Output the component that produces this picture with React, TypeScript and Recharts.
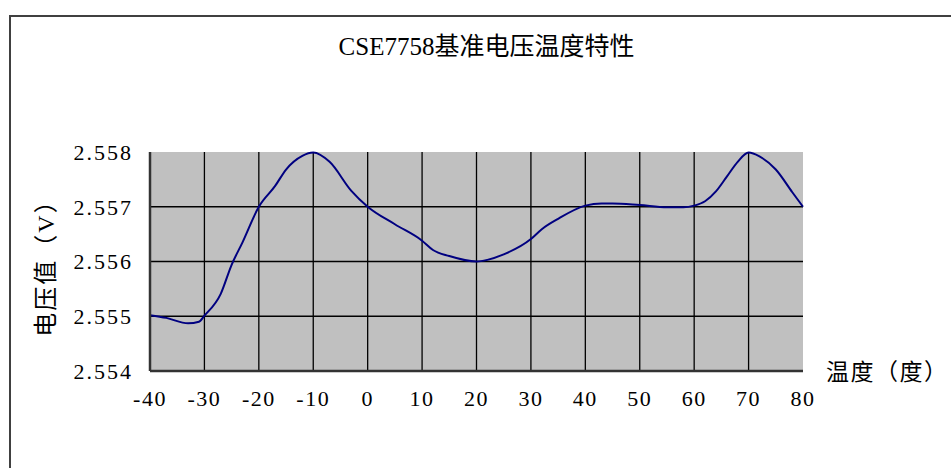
import React from "react";
import {
  LineChart,
  Line,
  XAxis,
  YAxis,
  ReferenceArea,
  ReferenceLine,
} from "recharts";

const temps = [
  -40, -37, -33, -31, -30, -27, -25, -23, -20, -17, -15, -12, -10, -7, -3, 0, 5,
  10, 12, 15, 20, 22, 25, 30, 32, 35, 40, 43, 45, 50, 55, 58, 60, 62, 64, 66, 68,
  70, 72, 75, 78, 80,
];
const voltages = [
  2.55502, 2.55497, 2.55487, 2.5549, 2.55501, 2.55541, 2.55594, 2.55635, 2.557,
  2.55738, 2.55768, 2.55793, 2.55799, 2.55782, 2.55729, 2.557, 2.55668, 2.55638,
  2.55621, 2.5561, 2.556, 2.55603, 2.55613, 2.55641, 2.55659, 2.55678, 2.55702,
  2.55706, 2.55706, 2.55703, 2.55699, 2.55699, 2.55702, 2.5571, 2.55728, 2.55755,
  2.55782, 2.55799, 2.55792, 2.55768, 2.55727, 2.557,
];
const xTicks = [-40, -30, -20, -10, 0, 10, 20, 30, 40, 50, 60, 70, 80];
const yTicks = [2.554, 2.555, 2.556, 2.557, 2.558];
const xGrid = [-30, -20, -10, 0, 10, 20, 30, 40, 50, 60, 70];
const yGrid = [2.555, 2.556, 2.557];

const title = "CSE7758基准电压温度特性";
const yLabel = "电压值（V）";
const xLabel = "温度（度）";

const data = temps.map((t, i) => ({ t, v: voltages[i] }));

const FONT = "'Liberation Serif', 'Noto Sans CJK SC', serif";

export default function App() {
  return (
    <div
      style={{
        position: "absolute",
        left: 0,
        top: 0,
        width: 951,
        height: 468,
        background: "#fff",
        fontFamily: FONT,
      }}
    >
      <div
        style={{
          position: "absolute",
          left: 9,
          top: 15,
          width: 942,
          height: 453,
          borderLeft: "2px solid #404040",
          borderTop: "2px solid #404040",
          boxSizing: "border-box",
        }}
      />
      <div
        style={{
          position: "absolute",
          left: 0,
          width: 973,
          top: 32,
          textAlign: "center",
          fontSize: 25,
          lineHeight: "30px",
          color: "#000",
          whiteSpace: "nowrap",
        }}
      >
        {title}
      </div>
      <div
        style={{
          position: "absolute",
          left: 826,
          top: 358,
          fontSize: 23,
          letterSpacing: 1.5,
          lineHeight: "30px",
          color: "#000",
          whiteSpace: "nowrap",
        }}
      >
        {xLabel}
      </div>
      <div
        style={{
          position: "absolute",
          left: 46,
          top: 262,
          fontSize: 24,
          letterSpacing: 2,
          lineHeight: "30px",
          color: "#000",
          whiteSpace: "nowrap",
          transform: "translate(-50%, -50%) rotate(-90deg)",
        }}
      >
        {yLabel}
      </div>
      <div style={{ position: "absolute", left: 0, top: 0 }}>
        <LineChart
          width={951}
          height={468}
          data={data}
          margin={{ top: 152, right: 148, left: 70, bottom: 67 }}
        >
          <ReferenceArea
            x1={-40}
            x2={80}
            y1={2.554}
            y2={2.558}
            fill="#c0c0c0"
            fillOpacity={1}
            stroke="none"
            ifOverflow="visible"
          />
          {xGrid.map((x) => (
            <ReferenceLine key={"x" + x} x={x} stroke="#000" strokeWidth={1.3} />
          ))}
          {yGrid.map((y) => (
            <ReferenceLine key={"y" + y} y={y} stroke="#000" strokeWidth={1.3} />
          ))}
          <XAxis
            dataKey="t"
            type="number"
            domain={[-40, 80]}
            ticks={xTicks}
            interval={0}
            height={30}
            tickSize={0}
            tickMargin={19}
            axisLine={{ stroke: "#333", strokeWidth: 2.5 }}
            tickLine={false}
            tick={{ fill: "#000", fontSize: 22, fontFamily: FONT, letterSpacing: 1.5 }}
          />
          <YAxis
            type="number"
            domain={[2.554, 2.558]}
            ticks={yTicks}
            interval={0}
            width={80}
            tickSize={0}
            tickMargin={17}
            tickFormatter={(v: number) => v.toFixed(3)}
            axisLine={{ stroke: "#333", strokeWidth: 2.5 }}
            tickLine={false}
            tick={{ fill: "#000", fontSize: 22, fontFamily: FONT, letterSpacing: 2 }}
          />
          <Line
            type="monotone"
            dataKey="v"
            stroke="#000080"
            strokeWidth={2}
            dot={false}
            isAnimationActive={false}
          />
        </LineChart>
      </div>
    </div>
  );
}
